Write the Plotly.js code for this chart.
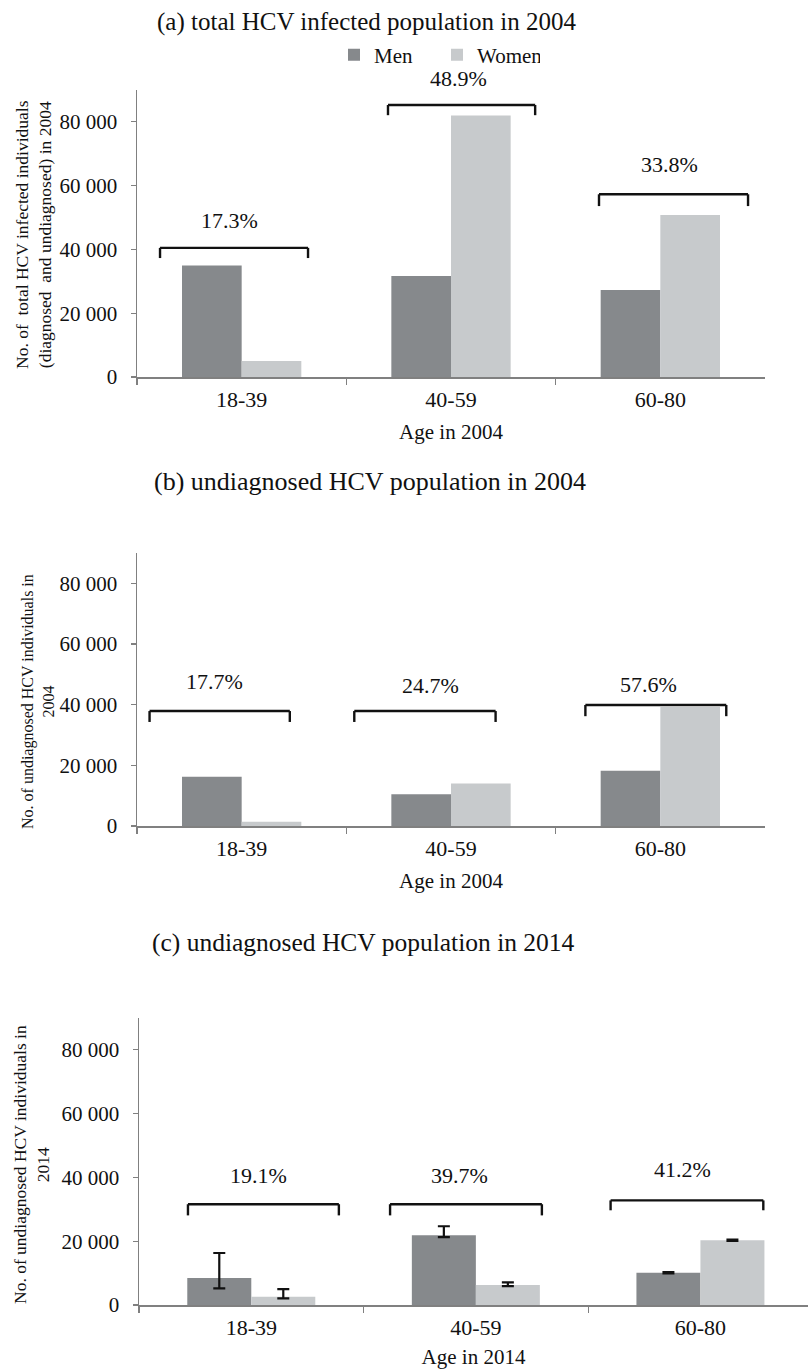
<!DOCTYPE html>
<html>
<head>
<meta charset="utf-8">
<script src="https://cdn.plot.ly/plotly-3.0.1.min.js"></script>
<style>html,body{margin:0;padding:0;background:#fff}#chart{width:808px;height:1369px}</style>
</head>
<body>
<div id="chart"></div>
<script>
// ---- data ----
const ageGroups = ['18-39', '40-59', '60-80'];
const menTotal2004 = [35000, 31700, 27300];
const womenTotal2004 = [5000, 82000, 50800];
const menUndiag2004 = [16200, 10500, 18200];
const womenUndiag2004 = [1400, 14000, 39200];
const menUndiag2014 = [8500, 21900, 10100];
const womenUndiag2014 = [2600, 6250, 20300];
const menUndiag2014High = [16300, 24700, 10300];
const menUndiag2014Low = [5200, 21300, 9900];
const womenUndiag2014High = [5000, 7100, 20500];
const womenUndiag2014Low = [2100, 5900, 20100];
const pctTotal2004 = ['17.3%', '48.9%', '33.8%'];
const pctUndiag2004 = ['17.7%', '24.7%', '57.6%'];
const pctUndiag2014 = ['19.1%', '39.7%', '41.2%'];
const yTickVals = [0, 20000, 40000, 60000, 80000];
const yTickText = ['0', '20 000', '40 000', '60 000', '80 000'];

// ---- style ----
const W = 808, H = 1369;
const FONT = 'Liberation Serif, Times New Roman, serif';
const MEN_C = '#86898c', WOMEN_C = '#c7cacc';
const AX_C = '#808080', TXT_C = '#111';
const YMAX = 90000;
const px = v => v / W, py = v => 1 - v / H;

const traces = [
  {type: 'bar', name: 'Men', x: ageGroups, y: menTotal2004, marker: {color: MEN_C}, xaxis: 'x', yaxis: 'y'},
  {type: 'bar', name: 'Women', x: ageGroups, y: womenTotal2004, marker: {color: WOMEN_C}, xaxis: 'x', yaxis: 'y'},
  {type: 'bar', name: 'Men', x: ageGroups, y: menUndiag2004, marker: {color: MEN_C}, xaxis: 'x2', yaxis: 'y2', showlegend: false},
  {type: 'bar', name: 'Women', x: ageGroups, y: womenUndiag2004, marker: {color: WOMEN_C}, xaxis: 'x2', yaxis: 'y2', showlegend: false},
  {type: 'bar', name: 'Men', x: ageGroups, y: menUndiag2014, marker: {color: MEN_C}, xaxis: 'x3', yaxis: 'y3', showlegend: false,
   error_y: {type: 'data', symmetric: false,
     array: menUndiag2014High.map((h, i) => h - menUndiag2014[i]),
     arrayminus: menUndiag2014Low.map((l, i) => menUndiag2014[i] - l),
     color: '#111', thickness: 2.2, width: 6}},
  {type: 'bar', name: 'Women', x: ageGroups, y: womenUndiag2014, marker: {color: WOMEN_C}, xaxis: 'x3', yaxis: 'y3', showlegend: false,
   error_y: {type: 'data', symmetric: false,
     array: womenUndiag2014High.map((h, i) => h - womenUndiag2014[i]),
     arrayminus: womenUndiag2014Low.map((l, i) => womenUndiag2014[i] - l),
     color: '#111', thickness: 2.2, width: 6}}
];

function xAxis(d0, d1, anchor, range, title) {
  return {
    domain: [px(d0), px(d1)], anchor: anchor, type: 'category', range: range,
    showline: true, linecolor: AX_C, linewidth: 1.5,
    ticks: 'outside', ticklen: 6, tickwidth: 1.2, tickcolor: AX_C, tickson: 'boundaries',
    tickfont: {family: FONT, size: 22, color: TXT_C}, ticklabelstandoff: 2,
    showgrid: false, zeroline: false, fixedrange: true,
    title: {text: title, font: {family: FONT, size: 21, color: TXT_C}, standoff: 13}
  };
}
function yAxis(top, bottom, anchor) {
  return {
    domain: [py(bottom), py(top)], anchor: anchor, range: [0, YMAX],
    tickvals: yTickVals, ticktext: yTickText,
    showline: true, linecolor: AX_C, linewidth: 1.5,
    ticks: 'outside', ticklen: 5, tickwidth: 1.2, tickcolor: AX_C,
    tickfont: {family: FONT, size: 21, color: TXT_C}, ticklabelstandoff: 9,
    showgrid: false, zeroline: false, fixedrange: true
  };
}

const panels = {
  x: {y: 'y', top: 90, bottom: 377},
  x2: {y: 'y2', top: 553, bottom: 826},
  x3: {y: 'y3', top: 1018, bottom: 1305}
};
// bracket geometry per panel: [left, right, top, legBottom] in category-index / data units
const bracketGeom = {
  x:  [[-0.390, 0.317, 40500, 37300], [0.699, 1.402, 85300, 82100], [1.707, 2.419, 57300, 53600]],
  x2: [[-0.440, 0.230, 37900, 34300], [0.538, 1.213, 37900, 34300], [1.642, 2.315, 39900, 36200]],
  x3: [[-0.282, 0.390, 31600, 28100], [0.618, 1.294, 31600, 28100], [1.600, 2.280, 32800, 29700]]
};
const labelGeom = {
  x:  [[-0.056, 49200], [1.034, 93700], [2.042, 66500]],
  x2: [[-0.128, 47500], [0.903, 46400], [1.943, 46700]],
  x3: [[0.034, 40600], [0.929, 40600], [1.922, 42500]]
};
const panelLabels = {x: pctTotal2004, x2: pctUndiag2004, x3: pctUndiag2014};

const shapes = [];
const annotations = [];
Object.keys(bracketGeom).forEach(xr => {
  const p = panels[xr];
  const yr = p.y;
  const ln = {color: '#111', width: 2.4};
  bracketGeom[xr].forEach(([l, r, t, b]) => {
    shapes.push({type: 'line', xref: xr, yref: yr, x0: l, x1: r, y0: t, y1: t, line: ln});
    shapes.push({type: 'line', xref: xr, yref: yr, x0: l, x1: l, y0: t, y1: b, line: ln});
    shapes.push({type: 'line', xref: xr, yref: yr, x0: r, x1: r, y0: t, y1: b, line: ln});
  });
  // labels: y converted to paper so labels above the axis range still show
  const d0 = py(p.bottom), d1 = py(p.top);
  labelGeom[xr].forEach(([lx, ly], i) => {
    annotations.push({xref: xr, yref: 'paper', x: lx, y: d0 + (ly / YMAX) * (d1 - d0),
      text: panelLabels[xr][i], showarrow: false,
      xanchor: 'center', yanchor: 'middle', font: {family: FONT, size: 22, color: TXT_C}});
  });
});

// panel titles
[['(a) total HCV infected population in 2004', 366, 22, 25],
 ['(b) undiagnosed HCV population in 2004', 370, 482, 26],
 ['(c) undiagnosed HCV population in 2014', 363, 942, 25.5]].forEach(([t, cx, cy, fs]) => {
  annotations.push({xref: 'paper', yref: 'paper', x: px(cx), y: py(cy), text: t, showarrow: false,
    xanchor: 'center', yanchor: 'middle', font: {family: FONT, size: fs, color: TXT_C}});
});
// y-axis titles
[['No. of  total HCV infected individuals<br>(diagnosed  and undiagnosed) in 2004', 33, 235, 17.5],
 ['No. of undiagnosed HCV individuals in<br>2004', 38, 702, 16],
 ['No. of undiagnosed HCV individuals in<br>2014', 31, 1165, 17.5]].forEach(([t, cx, cy, fs]) => {
  annotations.push({xref: 'paper', yref: 'paper', x: px(cx), y: py(cy), text: t, showarrow: false,
    textangle: -90, xanchor: 'center', yanchor: 'middle', font: {family: FONT, size: fs, color: TXT_C}});
});

const layout = {
  width: W, height: H,
  margin: {l: 0, r: 0, t: 0, b: 0, pad: 0},
  paper_bgcolor: '#fff', plot_bgcolor: '#fff',
  font: {family: FONT, color: TXT_C},
  barmode: 'group', bargap: 0.43, bargroupgap: 0,
  showlegend: true,
  legend: {orientation: 'h', x: px(334), xanchor: 'left', y: py(55), yanchor: 'middle',
    font: {family: FONT, size: 21, color: TXT_C}, itemwidth: 30, entrywidth: 58,
    bgcolor: 'rgba(0,0,0,0)', tracegroupgap: 0, traceorder: 'normal'},
  xaxis: xAxis(137, 765, 'y', [-0.5, 2.5], 'Age in 2004'),
  yaxis: yAxis(90, 377, 'x'),
  xaxis2: xAxis(137, 765, 'y2', [-0.5, 2.5], 'Age in 2004'),
  yaxis2: yAxis(553, 826, 'x2'),
  xaxis3: xAxis(139, 808, 'y3', [-0.5, 2.479], 'Age in 2014'),
  yaxis3: yAxis(1018, 1305, 'x3'),
  shapes: shapes,
  annotations: annotations
};

Plotly.newPlot('chart', traces, layout, {displayModeBar: false, staticPlot: true});
</script>
</body>
</html>
